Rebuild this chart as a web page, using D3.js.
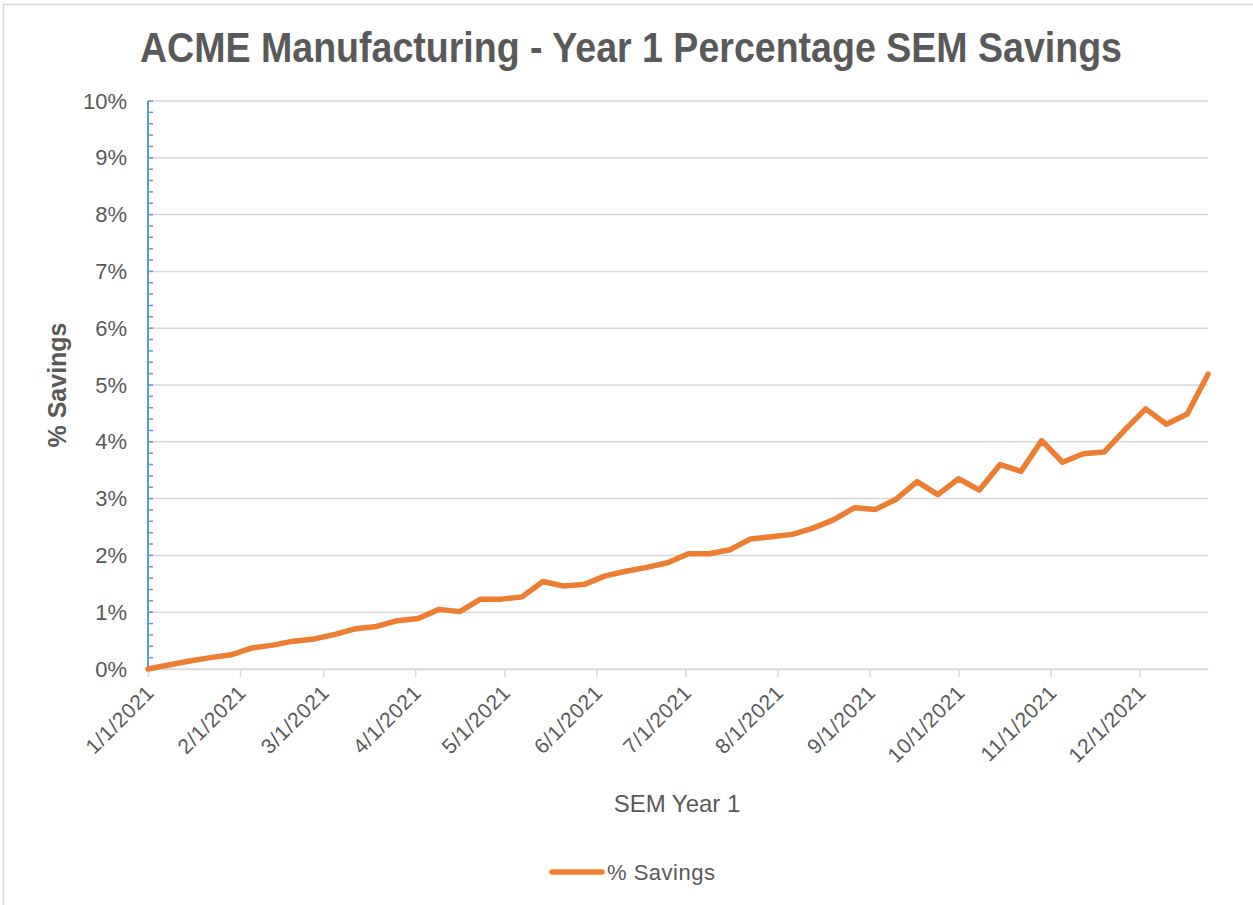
<!DOCTYPE html>
<html>
<head>
<meta charset="utf-8">
<script src="https://cdn.jsdelivr.net/npm/d3@7"></script>
<style>
  body { margin: 0; background: #fff; }
  text { font-family: "Liberation Sans", Arial, sans-serif; fill: #595959; }
</style>
</head>
<body>
<div id="chart"></div>
<script>
// weekly readings, first point 1/1/2021
const startDate = "2021-01-01";
const weeks = 52;
const savings = [
  0.00, 0.07, 0.14, 0.20, 0.25, 0.37, 0.42, 0.49, 0.53, 0.61,
  0.71, 0.75, 0.85, 0.89, 1.05, 1.01, 1.23, 1.23, 1.27, 1.54,
  1.46, 1.49, 1.64, 1.72, 1.79, 1.87, 2.03, 2.03, 2.10, 2.29,
  2.33, 2.37, 2.48, 2.63, 2.84, 2.81, 2.99, 3.30, 3.07, 3.35,
  3.15, 3.60, 3.48, 4.02, 3.64, 3.79, 3.82, 4.21, 4.58, 4.31,
  4.49, 5.19
];
const yTicks = [0, 1, 2, 3, 4, 5, 6, 7, 8, 9, 10];
const monthTicks = ["2021-01-01", "2021-02-01", "2021-03-01", "2021-04-01", "2021-05-01", "2021-06-01",
  "2021-07-01", "2021-08-01", "2021-09-01", "2021-10-01", "2021-11-01", "2021-12-01"];

const width = 1253, height = 905;
const margin = { left: 148, right: 45, top: 101, bottom: 236 };

const parse = d3.timeParse("%Y-%m-%d");
const dates = d3.range(weeks).map(i => d3.timeDay.offset(parse(startDate), 7 * i));
const data = dates.map((d, i) => ({ date: d, value: savings[i] }));

const svg = d3.select("#chart").append("svg")
  .attr("width", width)
  .attr("height", height);

// chart area border
svg.append("rect")
  .attr("x", 3.5).attr("y", 4.5)
  .attr("width", width + 20).attr("height", height + 20)
  .attr("fill", "none")
  .attr("stroke", "#d9d9d9")
  .attr("stroke-width", 1.5);

const x = d3.scaleTime()
  .domain(d3.extent(dates))
  .range([margin.left, width - margin.right]);

const y = d3.scaleLinear()
  .domain([0, 10])
  .range([height - margin.bottom, margin.top]);

// gridlines
svg.append("g")
  .selectAll("line")
  .data(yTicks)
  .join("line")
  .attr("x1", margin.left).attr("x2", width - margin.right)
  .attr("y1", d => y(d)).attr("y2", d => y(d))
  .attr("stroke", "#d9d9d9")
  .attr("stroke-width", 1.5);

// x axis
const xAxis = svg.append("g")
  .attr("transform", `translate(0,${y(0)})`)
  .call(d3.axisBottom(x)
    .tickValues(monthTicks.map(parse))
    .tickSizeInner(8)
    .tickSizeOuter(0)
    .tickFormat(d3.timeFormat("%-m/%-d/%Y")));
xAxis.select(".domain").attr("stroke", "#d9d9d9").attr("stroke-width", 1.5);
xAxis.selectAll(".tick line").attr("stroke", "#d9d9d9").attr("stroke-width", 1.5);
xAxis.selectAll(".tick text")
  .attr("font-size", 21)
  .attr("letter-spacing", 0.6)
  .attr("fill", "#595959")
  .attr("text-anchor", "end")
  .attr("y", 0).attr("dy", 0)
  .attr("transform", "translate(7,25) rotate(-45)");

// y axis: labels
const yAxis = svg.append("g")
  .attr("transform", `translate(${margin.left},0)`)
  .call(d3.axisLeft(y)
    .tickValues(yTicks)
    .tickSize(0)
    .tickPadding(21)
    .tickFormat(d => d + "%"));
yAxis.select(".domain").remove();
yAxis.selectAll(".tick text").attr("font-size", 22).attr("fill", "#595959");

// y axis: blue line with inward minor ticks
const minor = d3.range(0, 10.01, 0.2);
svg.append("g")
  .selectAll("line")
  .data(minor)
  .join("line")
  .attr("x1", margin.left).attr("x2", margin.left + 5)
  .attr("y1", d => y(d)).attr("y2", d => y(d))
  .attr("stroke", "#5b9bd5")
  .attr("stroke-width", 1.5);
svg.append("line")
  .attr("x1", margin.left).attr("x2", margin.left)
  .attr("y1", y(0)).attr("y2", y(10))
  .attr("stroke", "#5b9bd5")
  .attr("stroke-width", 2);

// the series
const line = d3.line()
  .x(d => x(d.date))
  .y(d => y(d.value));

svg.append("path")
  .datum(data)
  .attr("fill", "none")
  .attr("stroke", "#ed7d31")
  .attr("stroke-width", 5.5)
  .attr("stroke-linejoin", "round")
  .attr("stroke-linecap", "round")
  .attr("d", line);

// title
svg.append("text")
  .attr("x", 631).attr("y", 62)
  .attr("text-anchor", "middle")
  .attr("font-size", 42)
  .attr("font-weight", "bold")
  .attr("textLength", 982)
  .attr("lengthAdjust", "spacingAndGlyphs")
  .text("ACME Manufacturing - Year 1 Percentage SEM Savings");

// axis titles
svg.append("text")
  .attr("transform", "translate(66,385) rotate(-90)")
  .attr("text-anchor", "middle")
  .attr("font-size", 25)
  .attr("font-weight", "bold")
  .text("% Savings");

svg.append("text")
  .attr("x", 677).attr("y", 812)
  .attr("text-anchor", "middle")
  .attr("font-size", 24)
  .text("SEM Year 1");

// legend
svg.append("line")
  .attr("x1", 552).attr("x2", 602)
  .attr("y1", 872).attr("y2", 872)
  .attr("stroke", "#ed7d31")
  .attr("stroke-width", 5.5)
  .attr("stroke-linecap", "round");
svg.append("text")
  .attr("x", 607).attr("y", 880)
  .attr("font-size", 22)
  .attr("letter-spacing", 0.5)
  .text("% Savings");
</script>
</body>
</html>
